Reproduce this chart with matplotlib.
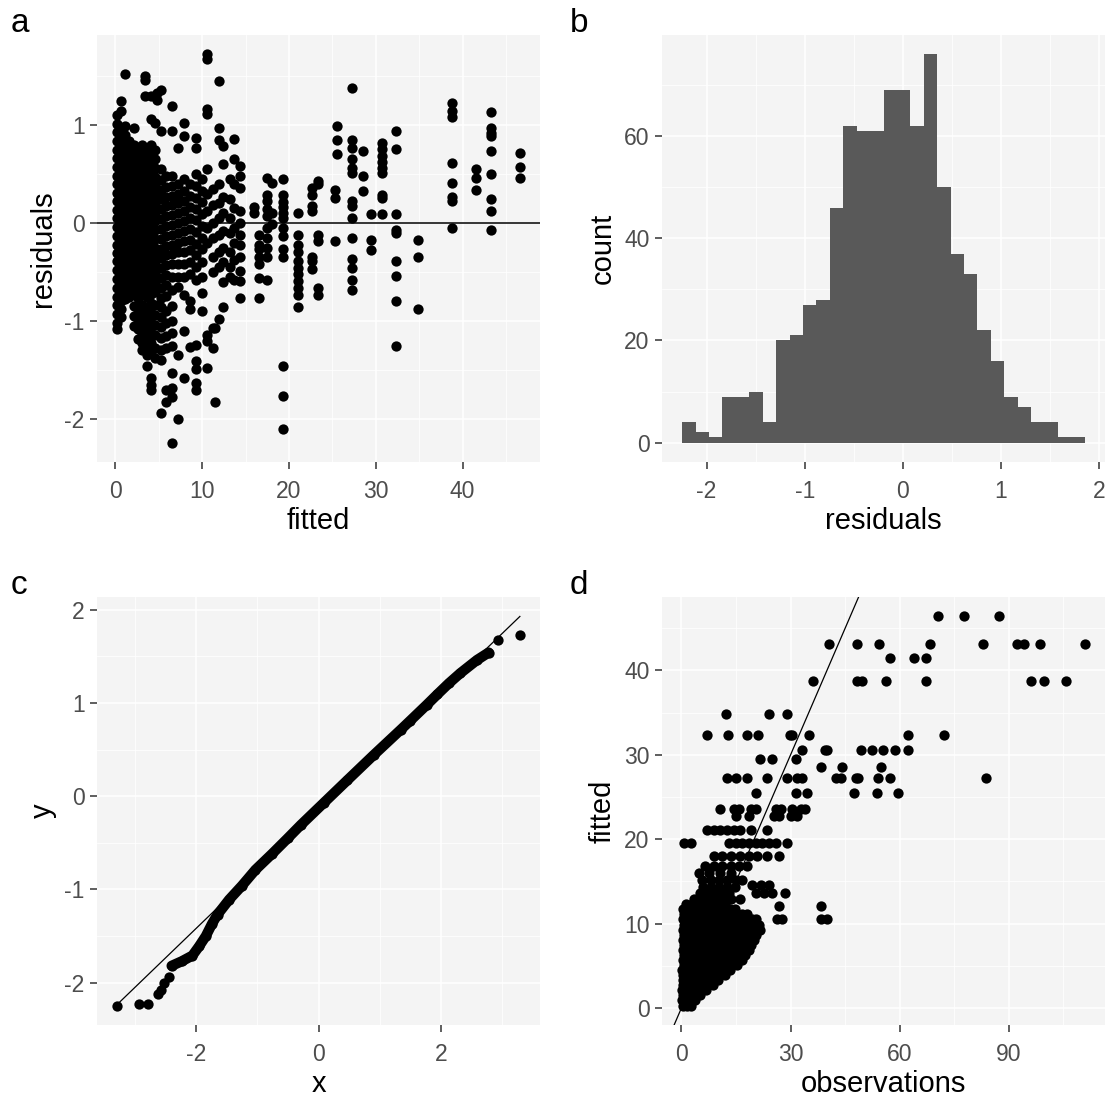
import numpy as np
import matplotlib
matplotlib.use('Agg')
import matplotlib.pyplot as plt

plt.rcParams['font.family'] = ['Liberation Sans', 'DejaVu Sans']
plt.rcParams['axes.unicode_minus'] = False

# ---- panel a: residuals vs fitted (one residual list per fitted value) ----
a_fit_levels = [0.2, 0.7, 1.1, 1.6, 2.1, 2.6, 3.1, 3.4, 3.6, 4.1, 4.6, 4.8, 5.2, 5.8,
                6.5, 7.2, 7.9, 8.6, 9.3, 10.0, 10.5, 11.2, 11.5, 11.9, 12.4, 13.2, 13.7,
                14.4, 16.0, 16.5, 17.5, 18.0, 19.3, 21.0, 22.6, 23.3, 25.3, 25.5, 27.3,
                28.5, 29.5, 30.7, 32.3, 34.9, 38.75, 41.6, 43.25, 46.6]
a_resid = [
    [1.10, 1.01, 0.93, 0.84, 0.74, 0.66, 0.57, 0.48, 0.40, 0.31, 0.22, 0.13, 0.05, -0.04, -0.13,
     -0.22, -0.31, -0.39, -0.48, -0.57, -0.66, -0.75, -0.84, -0.93, -1.02, -1.08],
    [1.24, 1.14, 0.97, 0.88, 0.79, 0.70, 0.61, 0.52, 0.44, 0.35, 0.26, 0.17, 0.08, -0.01, -0.09,
     -0.18, -0.27, -0.35, -0.44, -0.53, -0.62, -0.71, -0.80, -0.88, -0.96],
    [1.52, 0.99, 0.90, 0.81, 0.72, 0.63, 0.55, 0.46, 0.37, 0.28, 0.19, 0.10, 0.02, -0.07, -0.16,
     -0.25, -0.34, -0.43, -0.52, -0.61, -0.70, -0.78],
    [0.84, 0.75, 0.66, 0.58, 0.49, 0.40, 0.31, 0.22, 0.13, 0.04, -0.05, -0.14, -0.23, -0.31, -0.40,
     -0.49, -0.58, -0.67, -0.75],
    [0.97, 0.80, 0.71, 0.62, 0.53, 0.44, 0.35, 0.27, 0.18, 0.09, 0.00, -0.09, -0.18, -0.27, -0.36,
     -0.45, -0.54, -0.63, -0.72, -0.85, -0.95, -1.05],
    [0.76, 0.67, 0.58, 0.50, 0.41, 0.32, 0.23, 0.14, 0.05, -0.04, -0.13, -0.22, -0.31, -0.40, -0.49,
     -0.58, -0.67, -0.76, -0.88, -0.98, -1.08, -1.18],
    [0.80, 0.71, 0.62, 0.53, 0.44, 0.35, 0.26, 0.17, 0.08, -0.01, -0.10, -0.19, -0.28, -0.37, -0.46,
     -0.55, -0.64, -0.73, -0.84, -0.93, -1.02, -1.12, -1.22, -1.30],
    [1.50, 1.46, 1.30],
    [0.77, 0.68, 0.59, 0.50, 0.41, 0.32, 0.24, 0.15, 0.06, -0.03, -0.12, -0.21, -0.30, -0.39, -0.48,
     -0.57, -0.66, -0.75, -0.86, -0.95, -1.05, -1.15, -1.25, -1.35, -1.46],
    [1.30, 1.06, 0.80, 0.71, 0.62, 0.54, 0.45, 0.36, 0.27, 0.18, 0.09, 0.00, -0.09, -0.18, -0.27,
     -0.36, -0.45, -0.54, -0.63, -0.72, -0.82, -0.92, -1.02, -1.12, -1.22, -1.32, -1.58, -1.65, -1.70],
    [1.02, 0.74, 0.65, 0.56, 0.47, 0.38, 0.29, 0.20, 0.11, 0.02, -0.07, -0.16, -0.25, -0.34, -0.43,
     -0.52, -0.61, -0.70, -0.84, -0.94, -1.04, -1.14, -1.27, -1.38],
    [1.33, 1.25],
    [1.36, 0.94, 0.55, 0.44, 0.34, 0.24, 0.14, 0.04, -0.06, -0.16, -0.26, -0.36, -0.46, -0.56, -0.66,
     -0.76, -0.86, -0.96, -1.06, -1.17, -1.30, -1.40, -1.94],
    [0.48, 0.37, 0.27, 0.17, 0.07, -0.03, -0.13, -0.23, -0.33, -0.43, -0.53, -0.63, -0.74, -0.90,
     -1.02, -1.15, -1.28, -1.70, -1.83],
    [1.19, 0.94, 0.48, 0.38, 0.28, 0.18, 0.08, -0.02, -0.12, -0.22, -0.32, -0.42, -0.55, -0.68,
     -0.85, -1.00, -1.12, -1.25, -1.53, -1.68, -1.78, -2.24],
    [0.77, 0.40, 0.30, 0.20, 0.10, 0.00, -0.10, -0.20, -0.30, -0.42, -0.55, -0.65, -1.35, -2.00],
    [1.02, 0.89, 0.45, 0.33, 0.22, 0.12, 0.02, -0.08, -0.18, -0.30, -0.42, -0.55, -0.73, -1.10, -1.58],
    [0.40, 0.28, 0.16, 0.05, -0.06, -0.17, -0.28, -0.40, -0.52, -0.80, -0.88, -1.26],
    [0.87, 0.77, 0.50, 0.38, 0.26, 0.14, 0.03, -0.09, -0.21, -0.33, -0.45, -0.58, -1.24, -1.41,
     -1.49, -1.63, -1.70],
    [0.45, 0.33, 0.21, 0.09, -0.03, -0.15, -0.27, -0.40, -0.55, -0.71, -0.90],
    [1.72, 1.67, 1.16, 1.11, 0.55, 0.30, 0.12, -0.05, -0.20, -1.14, -1.20, -1.48],
    [0.35, 0.18, 0.00, -0.15, -0.35, -0.50, -1.07, -1.27],
    [-1.07, -1.83],
    [1.45, 0.97, 0.85, 0.40, 0.20, 0.05, -0.12, -0.30, -0.45, -0.98],
    [0.79, 0.60, 0.27, 0.10, -0.08, -0.25, -0.40, -0.60, -0.86],
    [0.45, 0.25, 0.05, -0.10, -0.30, -0.45, -0.55],
    [0.86, 0.65, 0.40, 0.15, -0.05, -0.20, -0.38, -0.58],
    [0.58, 0.48, 0.36, 0.12, 0.00, -0.12, -0.22, -0.35, -0.49, -0.59, -0.76],
    [0.16, 0.105],
    [-0.12, -0.22, -0.27, -0.35, -0.42, -0.56, -0.76],
    [0.46, 0.29, 0.22, 0.14, 0.07, -0.05, -0.15, -0.25, -0.35, -0.58],
    [0.41, 0.105, -0.01],
    [0.45, 0.29, 0.21, 0.16, 0.105, 0.05, -0.05, -0.13, -0.27, -0.35, -1.46, -1.76, -2.10],
    [0.105, -0.12, -0.22, -0.30, -0.39, -0.46, -0.52, -0.59, -0.66, -0.73, -0.86],
    [0.36, 0.29, 0.17, 0.12, -0.35, -0.39, -0.47],
    [0.43, 0.40, -0.12, -0.18, -0.66, -0.73],
    [0.34, 0.26, -0.18],
    [0.99, 0.85, 0.70],
    [1.38, 0.85, 0.77, 0.65, 0.56, 0.51, 0.22, 0.17, 0.05, -0.15, -0.37, -0.46, -0.58, -0.68],
    [0.73, 0.48, 0.33],
    [0.09, -0.17, -0.28],
    [0.82, 0.75, 0.68, 0.62, 0.56, 0.51, 0.29, 0.26, 0.09],
    [0.94, 0.75, 0.09, -0.07, -0.10, -0.39, -0.54, -0.80, -1.25],
    [-0.17, -0.35, -0.88],
    [1.22, 1.14, 1.08, 0.61, 0.41, 0.27, 0.22, -0.05],
    [0.55, 0.46, 0.34],
    [1.13, 0.97, 0.92, 0.89, 0.73, 0.50, 0.24, 0.12, -0.07],
    [0.71, 0.57, 0.46],
]

# ---- panel b: histogram of residuals (30 bins) ----
hist_start = -2.249
hist_width = 0.1368
hist_counts = [4, 2, 1, 9, 9, 10, 4, 20, 21, 27, 28, 46, 62, 61, 61,
               69, 69, 62, 76, 50, 37, 33, 22, 16, 9, 7, 4, 4, 1, 1]

# ---- panel c: normal QQ plot ----
qq_tail_x = [-3.29, -2.94, -2.78, -2.63, -2.57, -2.53, -2.45, 2.94, 3.29]
qq_tail_y = [-2.246, -2.23, -2.23, -2.12, -2.08, -2.00, -1.94, 1.67, 1.73]
qq_body_x = [-2.40, -2.23, -2.06, -1.95, -1.84, -1.74, -1.65, -1.46, -1.25, -1.03, -0.76, -0.50,
             -0.29, 0.09, 0.47, 0.90, 1.34, 1.50, 1.77, 1.94, 2.13, 2.32, 2.59, 2.78]
qq_body_y = [-1.82, -1.77, -1.71, -1.61, -1.50, -1.37, -1.27, -1.11, -0.96, -0.79, -0.62, -0.45,
             -0.31, -0.07, 0.17, 0.44, 0.71, 0.81, 0.98, 1.09, 1.21, 1.32, 1.46, 1.54]
qq_line_x = [-3.29, 3.29]
qq_line_y = [-2.235, 1.927]

# ---- panel d: fitted vs observations (one observation list per fitted value) ----
d_fit_levels = [0.3, 0.9, 1.5, 2.1, 2.7, 3.3, 3.9, 4.5, 5.1, 5.7, 6.3, 6.9, 7.5, 8.1, 8.7, 9.3,
                9.9, 10.5, 11.1, 11.7, 12.1, 12.3, 12.9, 13.65, 14.3, 14.6, 15.2, 16.0, 16.8,
                18.0, 19.5, 21.1, 22.8, 23.6, 25.5, 27.3, 28.6, 29.5, 30.6, 32.3, 34.8, 38.7,
                41.45, 43.15, 46.4]
d_obs = [
    [0.3, 1.4, 2.5],
    [0.2, 1.3, 2.5, 3.7],
    [0.4, 1.6, 2.9, 4.1, 5.2],
    [0.2, 1.5, 2.8, 4.1, 5.4, 6.7],
    [0.5, 1.8, 3.1, 4.5, 5.9, 7.3, 8.6],
    [0.3, 1.7, 3.1, 4.5, 6.0, 7.4, 8.8, 10.1],
    [0.5, 1.9, 3.4, 4.8, 6.3, 7.8, 9.2, 10.7, 11.9],
    [0.2, 1.7, 3.2, 4.7, 6.2, 7.7, 9.2, 10.7, 12.2, 13.4],
    [0.6, 2.1, 3.6, 5.1, 6.6, 8.2, 9.7, 11.2, 12.7, 14.1, 15.3],
    [0.3, 1.8, 3.3, 4.8, 6.4, 7.9, 9.5, 11.0, 12.5, 14.0, 15.6, 16.6],
    [0.6, 2.1, 3.6, 5.2, 6.7, 8.3, 9.8, 11.3, 12.9, 14.4, 16.0, 17.4],
    [0.3, 1.8, 3.4, 4.9, 6.5, 8.0, 9.6, 11.1, 12.7, 14.2, 15.8, 17.3, 18.5],
    [0.6, 2.1, 3.7, 5.2, 6.8, 8.3, 9.9, 11.5, 13.0, 14.6, 16.1, 17.7, 19.2],
    [0.3, 1.9, 3.4, 5.0, 6.5, 8.1, 9.7, 11.2, 12.8, 14.3, 15.9, 17.5, 19.0, 20.0],
    [0.6, 2.2, 3.7, 5.3, 6.9, 8.4, 10.0, 11.6, 13.1, 14.7, 16.3, 17.8, 19.4, 20.6],
    [0.3, 1.9, 3.5, 5.0, 6.6, 8.2, 9.8, 11.4, 12.9, 14.5, 16.1, 17.7, 19.2, 20.8, 21.6],
    [0.6, 2.2, 3.8, 5.4, 7.0, 8.6, 10.2, 11.8, 13.4, 15.0, 16.6, 18.1, 19.7, 21.3],
    [0.4, 2.0, 3.6, 5.2, 6.8, 8.4, 10.0, 11.6, 13.2, 14.8, 16.4, 18.0, 19.5, 20.6, 26.3, 27.7,
     38.3, 40.1],
    [0.7, 2.3, 3.9, 5.5, 7.1, 8.7, 10.3, 11.9, 13.5, 15.1, 16.7, 18.0],
    [0.5, 2.1, 3.7, 5.3, 6.9, 8.5, 10.1, 11.7, 13.3, 14.8],
    [26.8, 38.3],
    [1.2, 3.0, 4.6, 6.4, 8.3, 10.1, 12.0],
    [3.5, 5.5, 7.5, 9.5, 11.5, 13.5, 16.2],
    [5.0, 7.0, 9.0, 11.0, 13.0, 20.4, 22.7, 25.0, 28.6],
    [5.8, 8.0, 10.2, 12.4, 14.6],
    [19.5, 21.8, 24.0],
    [5.7, 8.0, 10.3, 12.6, 14.9, 16.7],
    [4.8, 7.5, 10.5, 13.5],
    [6.6, 8.9, 11.2, 13.5, 15.8, 18.1],
    [8.9, 11.2, 13.5, 16.2, 18.5, 20.8, 23.6, 26.8],
    [0.6, 2.5, 13.0, 14.9, 16.7, 18.5, 20.4, 22.2, 24.0, 25.9, 29.1],
    [7.1, 8.9, 10.7, 12.6, 14.4, 16.2, 19.0, 23.6],
    [15.1, 18.5, 25.4, 26.8, 30.0, 31.8],
    [10.5, 14.4, 15.8, 19.0, 20.4, 25.9, 27.3, 30.5, 32.8, 34.1],
    [20.6, 31.4, 34.6, 47.4, 53.9, 59.4],
    [12.6, 14.9, 18.1, 23.6, 28.9, 31.8, 33.2, 42.4, 43.8, 47.9, 48.5, 54.0, 57.3, 83.7],
    [38.5, 44.2, 54.8],
    [21.7, 25.0, 31.4],
    [33.2, 39.4, 40.1, 49.5, 52.5, 55.5, 58.7, 62.4],
    [6.9, 12.9, 17.9, 21.0, 29.8, 30.5, 35.2, 62.4, 72.3],
    [12.3, 24.0, 29.1],
    [36.1, 48.2, 49.7, 56.3, 67.2, 96.1, 99.7, 105.7],
    [57.3, 63.9, 67.2],
    [40.5, 48.4, 54.4, 68.2, 82.8, 92.2, 94.2, 98.6, 110.9],
    [70.5, 77.7, 87.2],
]


def expand(lo, hi, frac=0.05):
    d = (hi - lo) * frac
    return lo - d, hi + d


def style(ax, xmaj, xmin, ymaj, ymin, xlab, ylab):
    ax.set_facecolor('#F4F4F4')
    for s in ax.spines.values():
        s.set_visible(False)
    ax.set_xticks(xmaj)
    ax.set_xticklabels([str(v) for v in xmaj])
    ax.set_xticks(xmin, minor=True)
    ax.set_yticks(ymaj)
    ax.set_yticklabels([str(v) for v in ymaj])
    ax.set_yticks(ymin, minor=True)
    ax.grid(which='major', color='white', linewidth=1.1)
    ax.grid(which='minor', color='white', linewidth=0.55)
    ax.set_axisbelow(True)
    ax.tick_params(which='major', length=5, width=1.1, color='#333333',
                   labelsize=16.5, labelcolor='#4D4D4D')
    ax.tick_params(axis='x', which='major', pad=8)
    ax.tick_params(axis='y', which='major', pad=4)
    ax.tick_params(which='minor', length=0)
    ax.set_xlabel(xlab, fontsize=21, labelpad=3)
    ax.set_ylabel(ylab, fontsize=21, labelpad=5)


fig = plt.figure(figsize=(11.1, 10.99), dpi=100)
W, H = 1110, 1099
ax_a = fig.add_axes([97 / W, 1 - 462 / H, 443 / W, 427 / H])
ax_b = fig.add_axes([662 / W, 1 - 462 / H, 443 / W, 427 / H])
ax_c = fig.add_axes([97 / W, 1 - 1025 / H, 443 / W, 428 / H])
ax_d = fig.add_axes([662 / W, 1 - 1025 / H, 443 / W, 428 / H])

dot = dict(s=55, color='black', linewidths=0, zorder=3)

# a
ax_fit, ax_res = [], []
for f, rs in zip(a_fit_levels, a_resid):
    ax_fit += [f] * len(rs)
    ax_res += rs
ax_a.scatter(ax_fit, ax_res, **dot)
ax_a.axhline(0, color='black', linewidth=1.1, zorder=4)
ax_a.set_xlim(*expand(min(ax_fit), max(ax_fit)))
ax_a.set_ylim(*expand(min(ax_res), max(ax_res)))
style(ax_a, [0, 10, 20, 30, 40], [5, 15, 25, 35, 45], [-2, -1, 0, 1], [-1.5, -0.5, 0.5, 1.5],
      'fitted', 'residuals')

# b
edges = hist_start + hist_width * np.arange(len(hist_counts) + 1)
ax_b.bar(edges[:-1], hist_counts, width=hist_width, align='edge', color='#595959',
         linewidth=0, zorder=3)
ax_b.set_xlim(*expand(edges[0], edges[-1]))
ax_b.set_ylim(*expand(0, max(hist_counts)))
style(ax_b, [-2, -1, 0, 1, 2], [-1.5, -0.5, 0.5, 1.5], [0, 20, 40, 60], [10, 30, 50, 70],
      'residuals', 'count')

# c
ax_c.plot(qq_body_x, qq_body_y, color='black', linewidth=7.4, solid_capstyle='round',
          solid_joinstyle='round', zorder=3)
ax_c.scatter(qq_body_x + qq_tail_x, qq_body_y + qq_tail_y, **dot)
ax_c.plot(qq_line_x, qq_line_y, color='black', linewidth=0.9, zorder=4)
cx = qq_tail_x + qq_line_x
cy = qq_tail_y + qq_line_y
ax_c.set_xlim(*expand(min(cx), max(cx)))
ax_c.set_ylim(*expand(min(cy), max(cy)))
style(ax_c, [-2, 0, 2], [-3, -1, 1, 3], [-2, -1, 0, 1, 2], [-1.5, -0.5, 0.5, 1.5], 'x', 'y')

# d
dx, dy = [], []
for f, obs in zip(d_fit_levels, d_obs):
    dx += obs
    dy += [f] * len(obs)
ax_d.scatter(dx, dy, **dot)
ax_d.axline((0, 0), slope=1, color='black', linewidth=0.9, zorder=4)
ax_d.set_xlim(*expand(min(dx), max(dx)))
ax_d.set_ylim(*expand(min(dy), max(dy)))
style(ax_d, [0, 30, 60, 90], [15, 45, 75, 105], [0, 10, 20, 30, 40], [5, 15, 25, 35, 45],
      'observations', 'fitted')

for lab, x, y in [('a', 11, 32), ('b', 570, 32), ('c', 11, 594), ('d', 570, 594)]:
    fig.text(x / W, 1 - y / H, lab, fontsize=24, ha='left', va='baseline')

fig.savefig('out.png', dpi=100)
